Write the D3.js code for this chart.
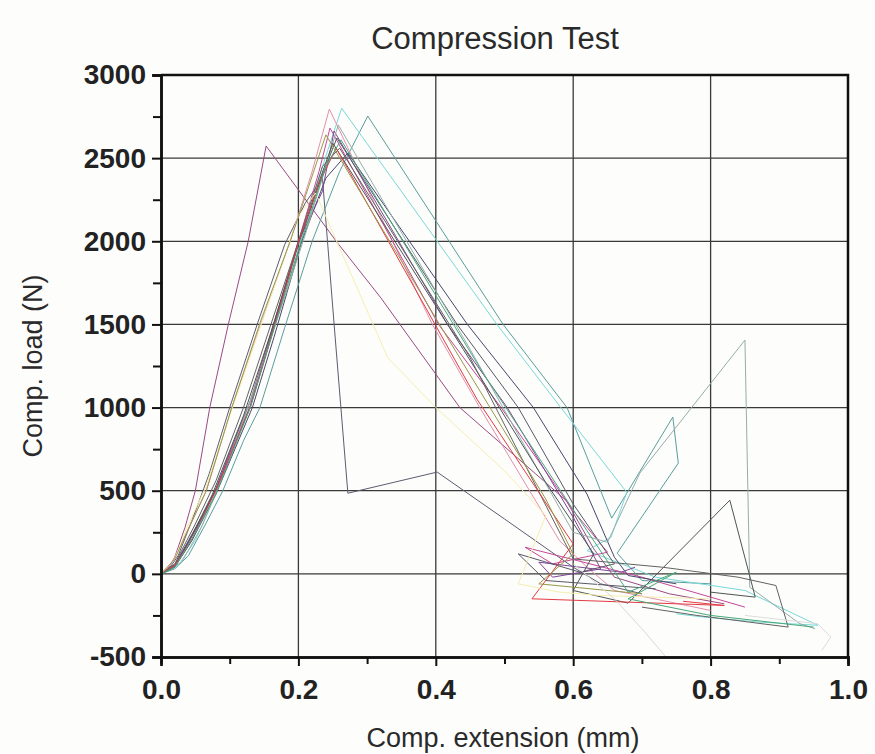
<!DOCTYPE html>
<html>
<head>
<meta charset="utf-8">
<script src="https://cdn.jsdelivr.net/npm/d3@7"></script>
<style>
  body { margin: 0; background: #fdfdfb; }
  svg { display: block; }
  .tick text { font-family: "Liberation Sans", Arial, sans-serif; font-weight: bold; font-size: 28px; fill: #222; }
</style>
</head>
<body>
<div class="chart"></div>
<script>
// Width and height
var w = 875;
var h = 754;
const margin = {top: 75, right: 27, bottom: 97, left: 161};

// axis ticks
const xMajor = [0, 0.2, 0.4, 0.6, 0.8, 1.0];
const xMinor = [0.1, 0.3, 0.5, 0.7, 0.9];
const yMajor = [-500, 0, 500, 1000, 1500, 2000, 2500, 3000];
const yMinor = [-250, 250, 750, 1250, 1750, 2250, 2750];

// one array per specimen: [extension mm, load N]
const s01 = [[0,0],[0.01,30],[0.02,100],[0.035,280],[0.05,500],[0.071,1000],[0.098,1500],[0.127,2000],[0.153,2573],[0.256,1995],[0.32,1660],[0.435,1000],[0.59,440],[0.63,150],[0.66,-20],[0.74,-120],[0.82,-180]];
const s02 = [[0,0],[0.01,20],[0.025,110],[0.045,320],[0.07,600],[0.1,1000],[0.14,1500],[0.18,1980],[0.21,2230],[0.235,2380],[0.252,1500],[0.272,485],[0.402,612],[0.5,330],[0.6,40],[0.64,-60],[0.70,-120]];
const s03 = [[0,0],[0.02,30],[0.04,110],[0.065,300],[0.09,500],[0.12,800],[0.144,1000],[0.18,1480],[0.22,2000],[0.26,2420],[0.301,2753],[0.498,1500],[0.591,1000],[0.656,335],[0.745,943],[0.753,666],[0.664,124],[0.70,-40],[0.80,-60]];
const s04 = [[0,0],[0.025,50],[0.05,200],[0.08,480],[0.11,820],[0.14,1150],[0.17,1560],[0.2,1950],[0.235,2450],[0.263,2800],[0.489,1500],[0.582,1000],[0.678,490],[0.655,220],[0.62,140],[0.72,-20],[0.85,-100],[0.956,-309],[0.87,-290],[0.79,-260],[0.75,-240]];
const s05 = [[0,0],[0.015,60],[0.035,230],[0.066,500],[0.103,1000],[0.145,1500],[0.188,2000],[0.22,2420],[0.245,2795],[0.395,1500],[0.464,1000],[0.58,200],[0.62,40],[0.66,-100],[0.80,-220]];
const s06 = [[0,0],[0.02,50],[0.04,190],[0.06,340],[0.08,510],[0.1,720],[0.13,1000],[0.16,1420],[0.2,2000],[0.23,2420],[0.246,2681],[0.404,1500],[0.495,1000],[0.6,380],[0.65,130],[0.57,60],[0.53,160],[0.7,-20],[0.85,-200]];
const s07 = [[0,0],[0.02,40],[0.045,200],[0.08,480],[0.133,1000],[0.165,1430],[0.205,2000],[0.24,2380],[0.272,2531],[0.446,1500],[0.542,1000],[0.62,480],[0.66,100],[0.68,-10],[0.75,-60]];
const s08 = [[0,0],[0.02,55],[0.04,200],[0.06,350],[0.079,500],[0.1,730],[0.13,1040],[0.16,1450],[0.2,2000],[0.235,2300],[0.238,2370],[0.252,2663],[0.417,1500],[0.504,1000],[0.6,340],[0.64,30],[0.57,-20],[0.55,70],[0.67,10],[0.69,40]];
const s09 = [[0,0],[0.02,45],[0.04,190],[0.065,380],[0.09,600],[0.13,1010],[0.165,1500],[0.2,1980],[0.235,2400],[0.256,2621],[0.431,1500],[0.52,1000],[0.6,420],[0.66,60],[0.61,10],[0.52,120],[0.56,-40],[0.72,-90]];
const s10 = [[0,0],[0.03,70],[0.06,290],[0.09,590],[0.13,1040],[0.17,1540],[0.21,2040],[0.24,2450],[0.258,2700],[0.45,1350],[0.6,250],[0.65,190],[0.697,606],[0.85,1406],[0.857,-80],[0.93,-300],[0.952,-330]];
const s11 = [[0,0],[0.02,45],[0.045,230],[0.075,480],[0.12,950],[0.16,1450],[0.2,1990],[0.232,2380],[0.25,2590],[0.44,1350],[0.56,550],[0.63,120],[0.6,-100],[0.68,-176],[0.828,443],[0.865,-140],[0.80,-110]];
const s12 = [[0,0],[0.02,60],[0.05,300],[0.08,560],[0.12,1000],[0.16,1500],[0.2,2000],[0.235,2450],[0.26,2560],[0.45,1300],[0.6,90],[0.73,40],[0.84,-20],[0.895,-70],[0.913,-320],[0.78,-250],[0.70,-200]];
const s13 = [[0,0],[0.02,50],[0.045,210],[0.08,500],[0.13,1010],[0.16,1420],[0.2,1990],[0.23,2350],[0.255,2560],[0.46,1050],[0.6,180],[0.54,-150],[0.82,-190],[0.76,-165]];
const s14 = [[0,0],[0.02,90],[0.04,300],[0.065,520],[0.1,950],[0.15,1550],[0.2,2150],[0.225,2290],[0.33,1300],[0.4,1000],[0.5,620],[0.56,350],[0.52,-60],[0.58,-110],[0.64,-130],[0.80,-150]];
const s15 = [[0,0],[0.02,40],[0.045,210],[0.08,480],[0.13,1000],[0.17,1550],[0.205,2010],[0.24,2450],[0.262,2610],[0.47,1200],[0.62,260],[0.68,-110],[0.75,10],[0.68,-150],[0.8,-250],[0.95,-320]];
const s16 = [[0,0],[0.02,90],[0.04,270],[0.066,500],[0.103,1000],[0.145,1520],[0.188,2000],[0.215,2330],[0.24,2640],[0.42,1400],[0.56,450],[0.6,120],[0.55,-60],[0.70,-120]];
const s17 = [[0.60,60],[0.66,-150],[0.70,-330],[0.735,-500]];
const s18 = [[0.85,-250],[0.956,-300],[0.975,-380],[0.962,-460]];

const specimens = [s01, s02, s03, s04, s05, s06, s07, s08, s09, s10, s11, s12, s13, s14, s15, s16, s17, s18];
const colours = ["#9a4a86", "#5c5c70", "#5a9e9c", "#7ad8d8", "#e48fab", "#c6479a", "#46466f", "#804696", "#58586a",
                 "#94aeac", "#4c5654", "#626262", "#e23a44", "#f4efb0", "#46a878", "#98984a", "#d8d8d8", "#dcdcdc"];

// Create SVG element
var svg = d3.select("body")
  .select(".chart")
  .append("svg")
  .attr("width", w)
  .attr("height", h);

const x = d3.scaleLinear().domain([0, 1]).range([margin.left, w - margin.right]);
const y = d3.scaleLinear().domain([-500, 3000]).range([h - margin.bottom, margin.top]);

// grid lines
svg.append("g")
  .selectAll("line.gx")
  .data(xMajor.slice(1, -1))
  .enter()
  .append("line")
  .attr("x1", d => x(d)).attr("x2", d => x(d))
  .attr("y1", y(3000)).attr("y2", y(-500))
  .attr("stroke", "#3a3a3a")
  .attr("stroke-width", 1.3);

svg.append("g")
  .selectAll("line.gy")
  .data(yMajor.slice(1, -1))
  .enter()
  .append("line")
  .attr("x1", x(0)).attr("x2", x(1))
  .attr("y1", d => y(d)).attr("y2", d => y(d))
  .attr("stroke", "#3a3a3a")
  .attr("stroke-width", 1.3);

// clip to plot area
svg.append("clipPath")
  .attr("id", "plot")
  .append("rect")
  .attr("x", x(0)).attr("y", y(3000))
  .attr("width", x(1) - x(0)).attr("height", y(-500) - y(3000));

const line = d3.line()
  .x(d => x(d[0]))
  .y(d => y(d[1]));

svg.append("g")
  .attr("clip-path", "url(#plot)")
  .selectAll("path")
  .data(specimens)
  .enter()
  .append("path")
  .attr("d", line)
  .attr("fill", "none")
  .attr("stroke", (d, i) => colours[i])
  .attr("stroke-width", 1)
  .attr("stroke-linejoin", "round");

// frame (top and right)
svg.append("path")
  .attr("d", `M${x(0)},${y(3000)}H${x(1)}V${y(-500)}`)
  .attr("fill", "none")
  .attr("stroke", "#111")
  .attr("stroke-width", 2.5);

// axes
const styleAxis = g => {
  g.select(".domain").attr("stroke", "#111").attr("stroke-width", 2.5);
  g.selectAll(".tick line").attr("stroke", "#111").attr("stroke-width", 2);
};

svg.append("g")
  .attr("transform", `translate(0,${y(-500)})`)
  .call(d3.axisBottom(x).tickValues(xMinor).tickSize(7).tickFormat(""))
  .call(styleAxis);

svg.append("g")
  .attr("transform", `translate(0,${y(-500)})`)
  .call(d3.axisBottom(x).tickValues(xMajor).tickSize(9).tickPadding(13).tickFormat(d3.format(".1f")))
  .call(styleAxis);

svg.append("g")
  .attr("transform", `translate(${x(0)},0)`)
  .call(d3.axisLeft(y).tickValues(yMinor).tickSize(8).tickFormat(""))
  .call(styleAxis);

// plain hyphen for negatives, as in the original
svg.append("g")
  .attr("transform", `translate(${x(0)},0)`)
  .call(d3.axisLeft(y).tickValues(yMajor).tickSize(9).tickPadding(6).tickFormat(d => String(d)))
  .call(styleAxis);

// titles
svg.append("text")
  .attr("x", 495).attr("y", 49)
  .attr("text-anchor", "middle")
  .attr("font-family", "Liberation Sans, Arial, sans-serif")
  .attr("font-size", 31)
  .attr("fill", "#2a2a2a")
  .text("Compression Test");

svg.append("text")
  .attr("x", 503).attr("y", 747)
  .attr("text-anchor", "middle")
  .attr("font-family", "Liberation Sans, Arial, sans-serif")
  .attr("font-size", 27)
  .attr("fill", "#2a2a2a")
  .text("Comp. extension (mm)");

svg.append("text")
  .attr("transform", "translate(42,366) rotate(-90)")
  .attr("text-anchor", "middle")
  .attr("font-family", "Liberation Sans, Arial, sans-serif")
  .attr("font-size", 27)
  .attr("fill", "#2a2a2a")
  .text("Comp. load (N)");
</script>
</body>
</html>
